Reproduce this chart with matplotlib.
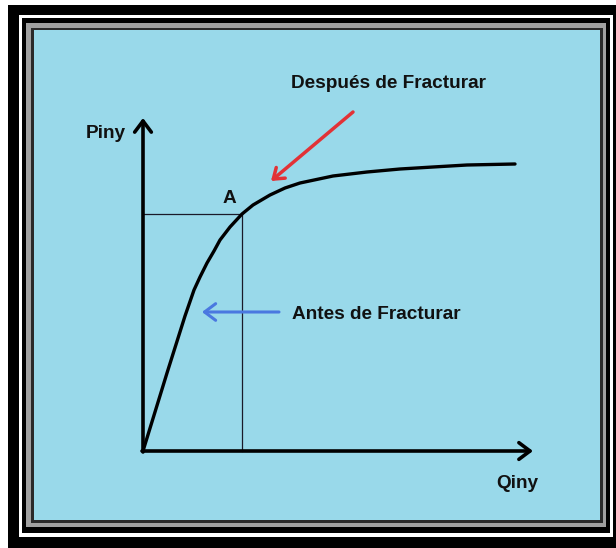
import matplotlib.pyplot as plt
from matplotlib.patches import Rectangle

# curva Piny vs Qiny (unidades = pixeles desde el origen)
curve_q = [0, 24, 42, 51, 57, 64, 71, 77, 87, 99, 110, 127, 142, 157, 190, 224, 257, 290, 324, 372]
curve_p = [0, 78, 135, 161, 174, 188, 200, 211, 224, 237, 246, 256, 263, 268, 275, 279, 282, 284, 286, 287]

punto_a = (99, 237)
eje_q_max = 390
eje_p_max = 333

label_y = 'Piny'
label_x = 'Qiny'
label_a = 'A'
label_despues = 'Después de Fracturar'
label_antes = 'Antes de Fracturar'

azul_fondo = '#99d9ea'
rojo = '#e23236'
azul = '#4a78e0'

W, H = 616, 548
ox, oy = 143, 451   # origen en pixeles

fig = plt.figure(figsize=(W / 100, H / 100), dpi=100)
fig.patch.set_facecolor('white')

# marco
ax_bg = fig.add_axes([0, 0, 1, 1])
ax_bg.set_xlim(0, W)
ax_bg.set_ylim(H, 0)
ax_bg.axis('off')
marcos = [
    ((8, 5, 616, 548), 'black'),
    ((19, 15, 613, 537), 'white'),
    ((22, 18, 610, 533), 'black'),
    ((26, 23, 606, 527), '#a0a0a0'),
    ((31, 28, 603, 523), '#2a2a2a'),
    ((34, 30, 600, 520), azul_fondo),
]
for (x0, y0, x1, y1), c in marcos:
    ax_bg.add_patch(Rectangle((x0, y0), x1 - x0, y1 - y0, facecolor=c, edgecolor='none'))

ax = fig.add_axes([0, 0, 1, 1])
ax.patch.set_alpha(0)
ax.set_xlim(-ox, W - ox)
ax.set_ylim(-(H - oy), oy)
ax.axis('off')

fuente = dict(family=['Liberation Sans', 'DejaVu Sans'], fontweight='bold', color='#111111', fontsize=13.7)

# lineas de referencia al punto A
ax.plot([0, punto_a[0]], [punto_a[1], punto_a[1]], color='#1a1a2a', lw=0.9)
ax.plot([punto_a[0], punto_a[0]], [0, punto_a[1]], color='#1a1a2a', lw=0.9)

# ejes con flecha
flecha_eje = dict(arrowstyle='->,head_length=0.4,head_width=0.3', color='black', lw=2.6,
                  shrinkA=0, shrinkB=0, mutation_scale=20)
ax.annotate('', xy=(0, eje_p_max), xytext=(0, -1), arrowprops=flecha_eje)
ax.annotate('', xy=(eje_q_max, 0), xytext=(-1, 0), arrowprops=flecha_eje)

# curva
ax.plot(curve_q, curve_p, color='black', lw=2.4, solid_capstyle='round', solid_joinstyle='round')

# flechas de color
ax.annotate('', xy=(128, 270), xytext=(210, 339),
            arrowprops=dict(arrowstyle='->,head_length=0.35,head_width=0.25', color=rojo, lw=2.5,
                            shrinkA=0, shrinkB=0, mutation_scale=20))
ax.annotate('', xy=(59, 139), xytext=(136, 139),
            arrowprops=dict(arrowstyle='->,head_length=0.4,head_width=0.3', color=azul, lw=2.2,
                            shrinkA=0, shrinkB=0, mutation_scale=20))

# textos
ax.text(-37, 313, label_y, ha='center', va='baseline', **fuente)
ax.text(374, -37, label_x, ha='center', va='baseline', **fuente)
ax.text(86.5, 248, label_a, ha='center', va='baseline', **fuente)
ax.text(148, 363, label_despues, ha='left', va='baseline', **fuente)
ax.text(149, 132, label_antes, ha='left', va='baseline', **fuente)

fig.savefig('out.png', dpi=100)
